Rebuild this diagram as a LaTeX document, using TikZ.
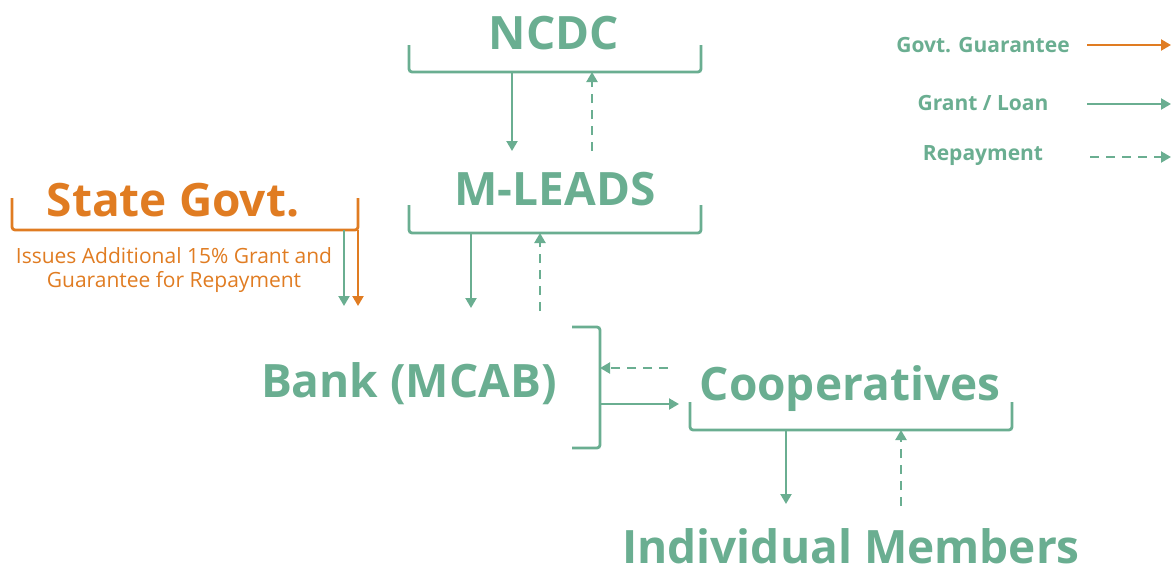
\documentclass[tikz,border=0pt]{standalone}
\usepackage{fontspec}
\setmainfont{Open Sans}
\usetikzlibrary{arrows.meta}

\definecolor{coopgreen}{RGB}{106,174,145}
\definecolor{govorange}{RGB}{224,124,34}

\tikzset{
	title/.style={font=\bfseries\fontsize{46}{50}\selectfont, text=coopgreen, inner sep=0pt, anchor=base},
	legend/.style={font=\bfseries\fontsize{21}{24}\selectfont, text=coopgreen, inner sep=0pt},
	brace/.style={line width=2.8pt, rounded corners=3pt},
	flow/.style={line width=2.2pt, -{Triangle[length=10pt,width=11pt]}},
	payback/.style={flow, dash pattern=on 9pt off 7pt},
}

\begin{document}
\begin{tikzpicture}[x=1pt,y=-1pt]

\path [use as bounding box] (0,0) rectangle (1173,574);

% TITLES
\node [title] (ncdc) at (554,49) {NCDC};
\node [title] (mleads) at (555,205) {M-LEADS};
\node [title, text=govorange] (state) at (173,216) {State Govt.};
\node [title] (bank) at (409,397) {Bank (MCAB)};
\node [title] (coop) at (850,400) {Cooperatives};
\node [title] (members) at (851,563) {Individual Members};
\node [text=govorange, font=\fontsize{21}{24}\selectfont, align=center, inner sep=0pt] (issues) at (174,270)
	{Issues Additional 15\% Grant and\\Guarantee for Repayment};

% BRACES
\draw [brace, coopgreen] (409,45) -- (409,72) -- (701,72) -- (701,45);
\draw [brace, coopgreen] (409,205) -- (409,233) -- (701,233) -- (701,205);
\draw [brace, govorange] (12,198) -- (12,230) -- (358,230) -- (358,198);
\draw [brace, coopgreen] (572,327) -- (600,327) -- (600,448) -- (572,448);
\draw [brace, coopgreen] (690,402) -- (690,430) -- (1012,430) -- (1012,402);

% PORT POINTS
\coordinate (ncdcout) at (512,72);
\coordinate (ncdcin) at (592,72);
\coordinate (mleadsout) at (471,233);
\coordinate (mleadsin) at (540,233);
\coordinate (stategreen) at (344,230);
\coordinate (stateorange) at (358,230);
\coordinate (bankin) at (600,368);
\coordinate (bankout) at (600,404);
\coordinate (coopout) at (786,430);
\coordinate (coopin) at (901,430);

% FLOWS
\draw [flow, coopgreen] (ncdcout) -- (ncdcout |- 0,151);
\draw [payback, coopgreen] (ncdcin |- 0,151) -- (ncdcin);
\draw [flow, coopgreen] (mleadsout) -- (mleadsout |- 0,308);
\draw [payback, coopgreen] (mleadsin |- 0,311) -- (mleadsin);
\draw [flow, coopgreen] (stategreen) -- (stategreen |- 0,306);
\draw [flow, govorange] (stateorange) -- (stateorange |- 0,306);
\draw [payback, coopgreen] (668,368) -- (bankin);
\draw [flow, coopgreen] (bankout) -- (679,404);
\draw [flow, coopgreen] (coopout) -- (coopout |- 0,504);
\draw [payback, coopgreen] (coopin |- 0,506) -- (coopin);

% LEGEND
\node [legend] (lguar) at (983,45) {Govt. Guarantee};
\node [legend] (lgrant) at (983,103) {Grant / Loan};
\node [legend] (lrepay) at (983,156) {Repayment};
\draw [flow, govorange] (1087,45) -- (1171,45);
\draw [flow, coopgreen] (1087,104) -- (1171,104);
\draw [payback, coopgreen] (1090,157) -- (1171,157);

\end{tikzpicture}
\end{document}
